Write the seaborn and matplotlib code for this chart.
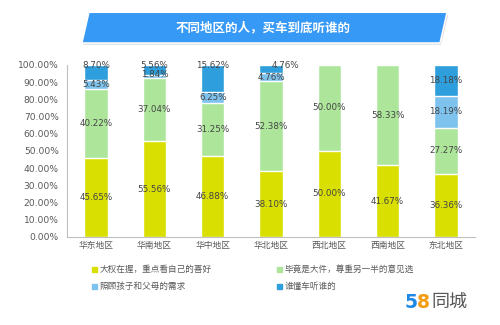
import numpy as np
import pandas as pd
import matplotlib
matplotlib.use("Agg")
import matplotlib.pyplot as plt
from matplotlib.patches import Polygon
from matplotlib.lines import Line2D
import seaborn as sns

regions = ["华东地区", "华南地区", "华中地区", "华北地区", "西北地区", "西南地区", "东北地区"]
series_names = ["大权在握，重点看自己的喜好", "毕竟是大件，尊重另一半的意见选",
                "照顾孩子和父母的需求", "谁懂车听谁的"]
own_taste = [45.65, 55.56, 46.88, 38.10, 50.00, 41.67, 36.36]
partner = [40.22, 37.04, 31.25, 52.38, 50.00, 58.33, 27.27]
family = [5.43, 1.84, 6.25, 4.76, 0.00, 0.00, 18.19]
expert = [8.70, 5.56, 15.62, 4.76, 0.00, 0.00, 18.18]
colors = ["#d9df00", "#ade59b", "#7ec3ee", "#2f9edc"]
yticks = [0, 10, 20, 30, 40, 50, 60, 70, 80, 90, 100]

sns.set_theme(style="white")
plt.rcParams["font.family"] = ["Noto Sans CJK SC", "DejaVu Sans"]
num_font = ["DejaVu Sans"]

fig = plt.figure(figsize=(5, 3.25), dpi=100)
ax = fig.add_axes([0.134, 0.271, 0.816, 0.529])

values = [own_taste, partner, family, expert]
cum = np.cumsum(np.array(values), axis=0)
df = pd.DataFrame({"region": regions})
# stacked bars drawn as overlapping cumulative totals, tallest first
for i in range(len(values) - 1, -1, -1):
    df["v"] = cum[i]
    sns.barplot(data=df, x="region", y="v", color=colors[i], width=0.4,
                saturation=1, ax=ax, order=regions)

lab_kw = dict(ha="center", va="center", fontsize=6.3, color="#444444",
              family=num_font)
for j in range(len(regions)):
    for i in range(len(values)):
        v = values[i][j]
        if v <= 0:
            continue
        base = cum[i][j] - v
        y = base + v / 2
        x = j
        if i == 3 and j < 4:
            y = 99.6
        if i == 3 and j == 3:
            x = j + 0.25
        if i == 2 and j == 1:
            y = 94.2
        ax.text(x, y, f"{v:.2f}%", **lab_kw)

ax.set_ylim(0, 100)
ax.set_xlim(-0.5, 6.5)
ax.set_yticks(yticks)
ax.set_yticklabels([f"{t:.2f}%" for t in yticks], fontsize=6.6,
                   color="#595959", family=num_font)
ax.tick_params(axis="x", labelsize=6.3, colors="#595959", length=0, pad=3)
ax.tick_params(axis="y", length=0, pad=6)
ax.set_xlabel("")
ax.set_ylabel("")
for s in ["top", "right"]:
    ax.spines[s].set_visible(False)
for s in ["left", "bottom"]:
    ax.spines[s].set_color("#bfbfbf")
    ax.spines[s].set_linewidth(0.8)

# legend, filled row by row
order = [0, 2, 1, 3]
handles = [Line2D([0], [0], marker="s", linestyle="", markersize=3.6,
                  markerfacecolor=colors[k], markeredgecolor=colors[k]) for k in order]
fig.legend(handles, [series_names[k] for k in order], ncol=2, loc="upper left",
           bbox_to_anchor=(0.176, 0.195), frameon=False, fontsize=6.2,
           labelcolor="#595959", handlelength=0.6, handletextpad=0.3,
           columnspacing=7.6, labelspacing=0.9, borderaxespad=0)

# title banner
shadow = Polygon([[0.166, 0.862], [0.882, 0.862], [0.897, 0.955], [0.180, 0.955]],
                 closed=True, transform=fig.transFigure, facecolor="#e3e3e3",
                 edgecolor="none")
fig.patches.append(shadow)
banner = Polygon([[0.164, 0.868], [0.880, 0.868], [0.894, 0.962], [0.178, 0.962]],
                 closed=True, transform=fig.transFigure, facecolor="#3599f5",
                 edgecolor="white", linewidth=1)
fig.patches.append(banner)
fig.text(0.527, 0.915, "不同地区的人，买车到底听谁的", ha="center", va="center",
         fontsize=9, color="white", fontweight="bold")

# brand mark
fig.text(0.810, 0.068, "5", fontsize=13.5, fontweight="bold", color="#1e88e5",
         ha="left", va="center", family=num_font)
fig.text(0.834, 0.068, "8", fontsize=13.5, fontweight="bold", color="#f39c12",
         ha="left", va="center", family=num_font)
fig.text(0.862, 0.068, "同城", fontsize=13, color="#555555",
         ha="left", va="center")

fig.savefig("out.png", dpi=100)
